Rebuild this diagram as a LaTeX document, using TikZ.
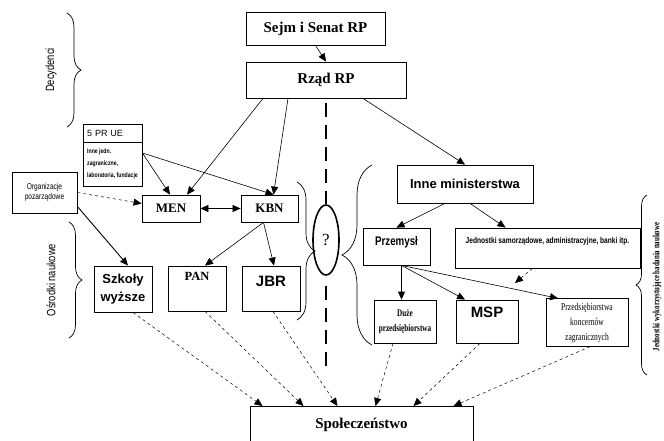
\documentclass[tikz,border=0pt]{standalone}
\usepackage{fontspec}
\setmainfont{Liberation Serif}
\setsansfont{Liberation Sans}
\newfontfamily\narrowsans[FakeStretch=0.78]{Liberation Sans}
\newfontfamily\narrowserif[FakeStretch=0.72]{Liberation Serif}
\usetikzlibrary{arrows.meta,shapes.geometric,decorations.pathreplacing}
\tikzset{
  box/.style={draw,line width=0.8pt,inner sep=4pt,align=center},
  bigserif/.style={font=\fontsize{15}{17}\selectfont\bfseries},
  midserif/.style={font=\fontsize{13}{15}\selectfont\bfseries},
  bigsans/.style={font=\fontsize{15}{18}\selectfont\sffamily\bfseries},
  tinysans/.style={font=\fontsize{8.5}{10.5}\selectfont\narrowsans},
  sidelabel/.style={font=\fontsize{12}{14}\selectfont\narrowsans,rotate=90},
  curly/.style={decorate,line width=0.7pt},
  dashto/.style={->,dashed,line width=0.5pt},
}
\begin{document}
\begin{tikzpicture}[x=1pt,y=-1pt,>={Triangle[length=8pt,width=7pt]},line width=0.6pt]
\useasboundingbox (0,0) rectangle (664,441);

% decision makers
\node[box,bigserif,minimum width=139pt,minimum height=33pt] (sejm) at (315.5,28.5) {Sejm i Senat RP};
\node[box,bigserif,minimum width=160pt,minimum height=36pt] (rzad) at (326,80) {Rząd RP};
\draw[->] (sejm.south) -- (rzad.north);

% left side
\node[box,font=\fontsize{9}{10}\selectfont\sffamily,minimum width=59pt,minimum height=18pt,text width=51pt,align=left] (prue) at (112.5,133) {5 PR UE};
\node[box,font=\fontsize{6.6}{12}\selectfont\narrowsans\bfseries,minimum width=59pt,minimum height=44pt,inner sep=1.5pt,align=left] (prueinne) at (112.5,164) {Inne jedn.\\zagraniczne,\\laboratoria, fundacje};
\node[box,tinysans,minimum width=65pt,minimum height=41pt] (org) at (44.5,192.5) {Organizacje\\pozarządowe};
\node[box,midserif,minimum width=58pt,minimum height=27pt] (men) at (171,208.5) {MEN};
\node[box,midserif,minimum width=57pt,minimum height=27pt] (kbn) at (269.5,208.5) {KBN};
\node[box,font=\fontsize{13}{18}\selectfont\sffamily\bfseries,line width=1pt,minimum width=58pt,minimum height=46pt] (szkoly) at (123,289) {Szkoły\\wyższe};
\node[box,font=\fontsize{12.5}{14}\selectfont\bfseries,minimum width=58pt,text height=10pt,text depth=27pt] (pan) at (197,288.5) {PAN};
\node[box,bigsans,minimum width=58pt,text height=16pt,text depth=21pt] (jbr) at (271,288.5) {JBR};

\draw[->] ([xshift=-63pt]rzad.south) -- ([xshift=16pt]men.north);
\draw[->] ([xshift=-38pt]rzad.south) -- ([xshift=4pt]kbn.north);
\draw[->] ([yshift=11pt]prueinne.east) -- ([xshift=-1pt]men.north);
\draw[->] ([yshift=11pt]prueinne.east) -- ([xshift=4pt]kbn.north);
\draw[<->] (men.east) -- (kbn.west);
\draw[dashto] (org.east) -- ([yshift=5pt]men.west);
\draw[->,line width=0.9pt] ([yshift=-14pt]org.east) -- ([xshift=5pt]szkoly.north);
\draw[->] ([xshift=-6pt]kbn.south) -- ([xshift=8pt]pan.north);
\draw[->] ([xshift=-6pt]kbn.south) -- ([xshift=3pt]jbr.north);

% divider
\node[draw,ellipse,line width=1.6pt,minimum width=26pt,minimum height=70pt,inner sep=0pt,font=\fontsize{17}{17}\selectfont] (ell) at (326,240) {?};
\coordinate (divend) at (326,368);
\draw[line width=2.6pt,dash pattern=on 14pt off 8pt] ([yshift=-5pt]rzad.south) -- (ell.north);
\draw[line width=2.6pt,dash pattern=on 14pt off 8pt] ([yshift=-10pt]ell.south) -- (divend);
\draw[curly,decoration={brace,amplitude=18pt}] (297,182) -- (297,320);
\draw[curly,decoration={brace,amplitude=30pt}] (372,345) -- (372,165);

% right side
\node[box,font=\fontsize{13}{15}\selectfont\sffamily\bfseries,minimum width=136pt,minimum height=38pt] (inne) at (465,184) {Inne ministerstwa};
\node[box,font=\fontsize{12.5}{14}\selectfont\narrowsans\bfseries,minimum width=67pt,text height=13pt,text depth=16pt] (przem) at (396.5,246.5) {Przemysł};
\node[box,font=\fontsize{8.5}{10}\selectfont\narrowsans\bfseries,minimum width=185pt,text height=11pt,text depth=21pt] (jedn) at (547.5,248) {Jednostki samorządowe, administracyjne, banki itp.};
\node[box,font=\fontsize{10}{15}\selectfont\narrowserif\bfseries,minimum width=62pt,minimum height=43pt] (duze) at (405,321.5) {Duże\\przedsiębiorstwa};
\node[box,bigsans,minimum width=62pt,text height=13pt,text depth=22pt] (msp) at (487,321.5) {MSP};
\node[box,font=\fontsize{10.5}{15}\selectfont\narrowserif,minimum width=82pt,minimum height=45pt] (koncern) at (587,322.5) {Przedsiębiorstwa\\koncernów\\zagranicznych};
\coordinate (jednend) at (515,283);

\draw[->] ([xshift=37pt]rzad.south) -- (inne.north);
\draw[->] ([xshift=-20pt]inne.south) -- (przem.north);
\draw[->] ([xshift=5pt]inne.south) -- ([xshift=-42pt]jedn.north);
\draw[->,line width=0.9pt] ([xshift=5pt]przem.south) -- ([xshift=5pt]przem.south |- duze.north);
\draw[->] ([xshift=5pt]przem.south) -- ([xshift=-22pt]msp.north);
\draw[->] ([xshift=5pt]przem.south) -- ([xshift=-29pt]koncern.north);
\draw[dashto] ([xshift=-15pt]jedn.south) -- (jednend);

% society
\node[box,bigserif,anchor=north,minimum width=223pt,text height=18pt,text depth=22pt] (spol) at (361.5,406) {Społeczeństwo};
\draw[dashto] ([xshift=10pt]szkoly.south) -- ([xshift=-99pt]spol.north);
\draw[dashto] ([xshift=8pt]pan.south) -- ([xshift=-58pt]spol.north);
\draw[dashto] ([xshift=2pt]jbr.south) -- ([xshift=-24pt]spol.north);
\draw[dashto] ([xshift=-12pt]duze.south) -- ([xshift=14pt]spol.north);
\draw[dashto] ([xshift=-7pt]msp.south) -- ([xshift=52pt]spol.north);
\draw[dashto] ([xshift=3pt]koncern.south) -- ([xshift=92pt]spol.north);

% groups
\draw[curly,decoration={brace,amplitude=14pt}] (67,13) -- (67,127);
\node[sidelabel] (decyd) at (51,70) {Decydenci};
\draw[curly,decoration={brace,amplitude=13pt}] (69,222) -- (69,338);
\node[sidelabel] (osrodki) at (51,280) {Ośrodki naukowe};
\draw[curly,decoration={brace,amplitude=11pt}] (647,375) -- (647,195);
\node[sidelabel,font=\fontsize{9.5}{11}\selectfont\narrowserif\bfseries,inner sep=1pt] (wykorz) at (657,287) {Jednostki wykorzystujące badania naukowe};
\end{tikzpicture}
\end{document}
